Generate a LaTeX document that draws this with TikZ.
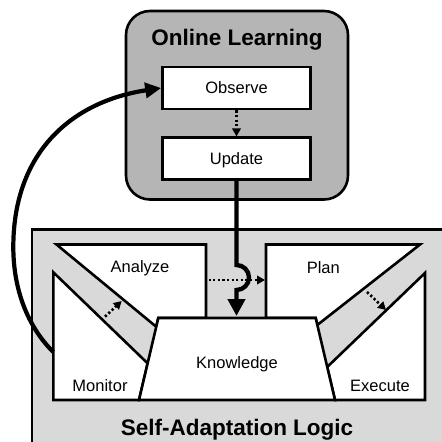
\documentclass[tikz,border=0pt]{standalone}
\usepackage{fontspec}
\setmainfont{Liberation Sans}
\usetikzlibrary{arrows.meta}
\definecolor{olgray}{gray}{0.71}
\definecolor{salgray}{gray}{0.85}
\begin{document}
\begin{tikzpicture}[x=1pt,y=-1pt,
  lbl/.style={font=\fontsize{16.5}{18}\selectfont, anchor=base, inner sep=0pt},
  ttl/.style={font=\fontsize{22.5}{24}\selectfont\bfseries, anchor=base, inner sep=0pt},
  shp/.style={draw=black, line width=2.6pt, fill=white},
  boxn/.style={shp, minimum width=148pt, minimum height=42pt, inner sep=0pt,
    text height=11.8pt, text depth=0pt, font=\fontsize{16.5}{18}\selectfont},
  dotarr/.style={line width=2.6pt, dash pattern=on 2.3pt off 2.3pt,
    -{Triangle[length=8pt,width=8.5pt]}},
  thickarr/.style={line width=4.4pt, -{Triangle[length=17pt,width=17pt]}},
  curvearr/.style={line width=4.2pt, -{Triangle[length=16pt,width=15pt]}}
]
\useasboundingbox (0,0) rectangle (442,442);
\clip (0,0) rectangle (442,442);

% Self-Adaptation Logic box
\draw[line width=2.6pt, fill=salgray] (32,229.5) rectangle (470,443);

% MAPE-K shapes
\draw[shp] (56.5,244.5) -- (206,244.5) -- (206,318) -- (158.3,318) -- (156.2,326.7) -- cycle;
\draw[shp] (53.3,272.3) -- (147.6,363.3) -- (139,400) -- (53.3,400) -- cycle;
\draw[shp] (266,244.5) -- (420,244.5) -- (317.3,325) -- (315.7,318) -- (266,318) -- cycle;
\draw[shp] (425,273) -- (327.2,367) -- (335,400) -- (425,400) -- cycle;
\draw[shp] (158.3,318) -- (315.7,318) -- (335,400) -- (139,400) -- cycle;

\node[lbl] (analyze) at (140,272.5) {Analyze};
\node[lbl] (plan) at (323.3,273) {Plan};
\node[lbl] (knowledge) at (237,368) {Knowledge};
\node[lbl] (monitor) at (100,391) {Monitor};
\node[lbl] (execute) at (380,391) {Execute};
\node[ttl] (sal) at (237,435) {Self-Adaptation Logic};

% dotted arrows inside the loop
\coordinate (m1) at (105,316.7);
\coordinate (a1) at (121.7,301);
\coordinate (a2) at (208.5,280);
\coordinate (p1) at (265,280);
\coordinate (p2) at (367,292);
\coordinate (e1) at (386,310);
\draw[dotarr] (m1) -- (a1);
\draw[dotarr] (a2) -- (p1);
\draw[dotarr] (p2) -- (e1);

% Online Learning box
\node[draw, line width=2.6pt, fill=olgray, rounded corners=24pt,
  minimum width=222pt, minimum height=188.5pt] (ol) at (237,105.25) {};
\node[ttl] (oltitle) at (237,45) {Online Learning};
\node[boxn] (obs) at (236.5,88) {Observe};
\node[boxn] (upd) at (236.5,158.75) {Update};
\draw[dotarr] (obs.south) -- (upd.north);

% hook arrow from Update to Knowledge
\coordinate (hk1) at (236.5,265);
\coordinate (kntip) at (236.5,316);
\draw[thickarr] (upd.south) -- (hk1) arc[start angle=-90, end angle=90, radius=12.5] -- (kntip);

% curved arrow from Monitor to Observe
\coordinate (monL) at (53.3,352);
\draw[curvearr] (monL) .. controls (28,327) and (13.3,290) .. (13.3,247)
  .. controls (13.3,152) and (72,101.5) .. (obs.west);
\end{tikzpicture}
\end{document}
